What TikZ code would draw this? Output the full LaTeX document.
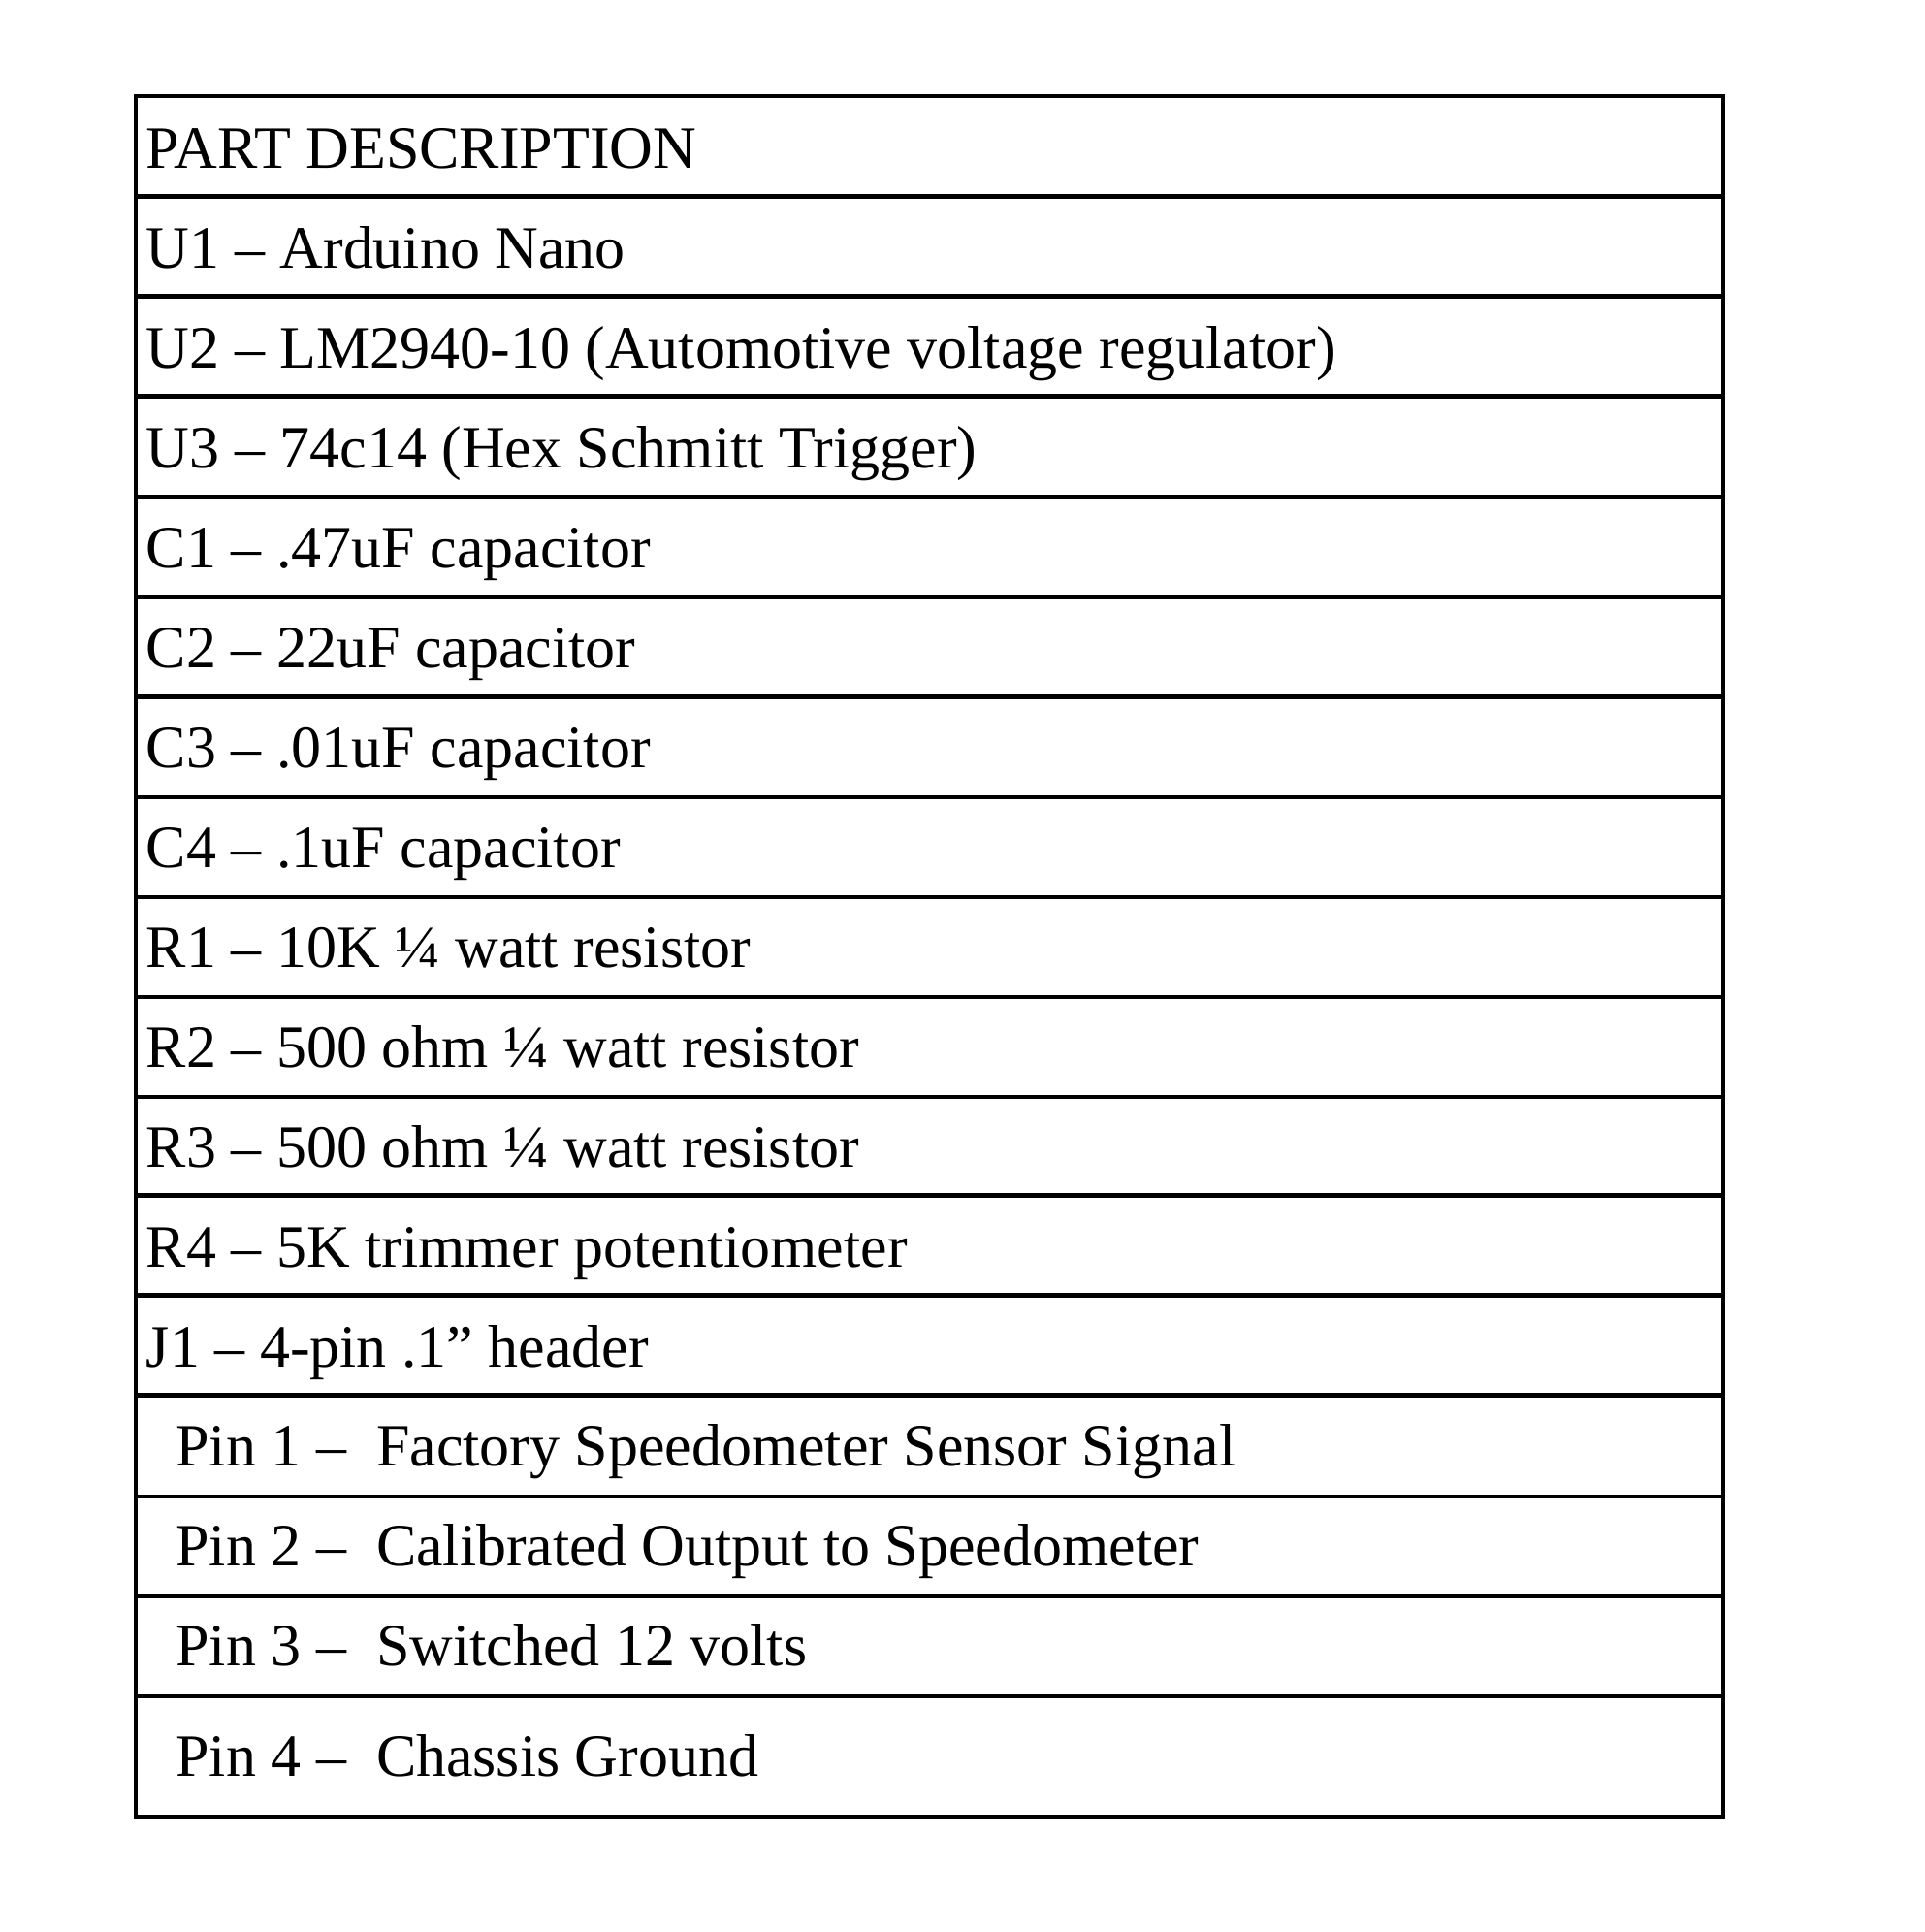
\documentclass[tikz,border=0pt]{standalone}
\usepackage{fontspec}
\setmainfont{Liberation Serif}
\begin{document}
\begin{tikzpicture}[x=0.01cm,y=-0.01cm,
  cell/.style={anchor=base west,inner sep=0pt,font=\fontsize{13.85}{16}\selectfont}]
  \useasboundingbox (0,0) rectangle (1560,1566);
  % table frame
  \draw[line width=1pt] (110,78) rectangle (1397,1473);
  \foreach \y in {159,240,321,403,484,565,646,727,808,889,969,1050,1131,1213,1294,1375}
    \draw[line width=1pt] (110,\y) -- (1397,\y);
  % parts
  \foreach \t [count=\i] in {PART DESCRIPTION,
      U1 -- Arduino Nano,
      U2 -- LM2940-10 (Automotive voltage regulator),
      U3 -- 74c14 (Hex Schmitt Trigger),
      C1 -- .47uF capacitor,
      C2 -- 22uF capacitor,
      C3 -- .01uF capacitor,
      C4 -- .1uF capacitor,
      R1 -- 10K ¼ watt resistor,
      R2 -- 500 ohm ¼ watt resistor,
      R3 -- 500 ohm ¼ watt resistor,
      R4 -- 5K trimmer potentiometer,
      J1 -- 4-pin .1” header}
    \node[cell] (row\i) at (118,{78+81*\i-23}) {\t};
  % header pins
  \node[cell] (pin1) at (142,1188) {Pin 1 --\ \ Factory Speedometer Sensor Signal};
  \node[cell] (pin2) at (142,1269) {Pin 2 --\ \ Calibrated Output to Speedometer};
  \node[cell] (pin3) at (142,1350) {Pin 3 --\ \ Switched 12 volts};
  \node[cell] (pin4) at (142,1440) {Pin 4 --\ \ Chassis Ground};
\end{tikzpicture}
\end{document}
